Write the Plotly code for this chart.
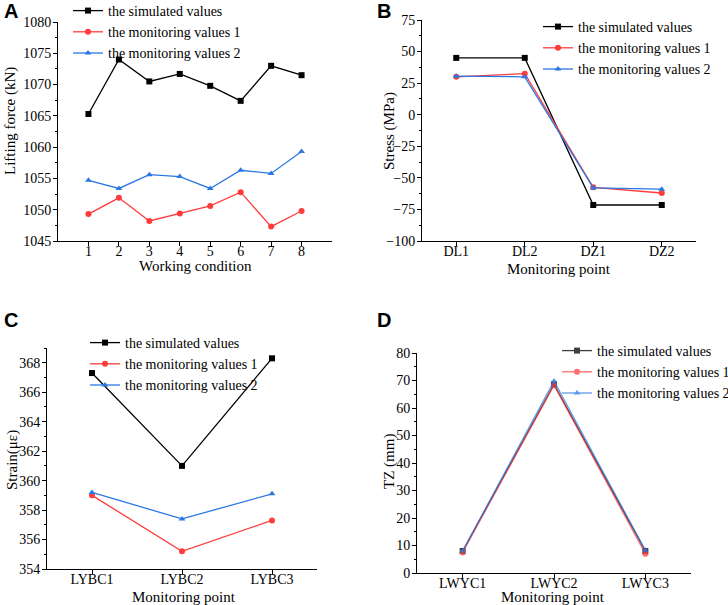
import plotly.graph_objects as go

# ---------------- data ----------------
names = ["the simulated values", "the monitoring values 1", "the monitoring values 2"]

a_x = [1, 2, 3, 4, 5, 6, 7, 8]
a_sim = [1065.3, 1074.0, 1070.5, 1071.7, 1069.8, 1067.4, 1073.0, 1071.5]
a_m1 = [1049.3, 1051.9, 1048.2, 1049.4, 1050.6, 1052.8, 1047.3, 1049.8]
a_m2 = [1054.7, 1053.4, 1055.6, 1055.3, 1053.4, 1056.3, 1055.8, 1059.3]

b_x = ["DL1", "DL2", "DZ1", "DZ2"]
b_sim = [45.0, 45.0, -71.5, -71.5]
b_m1 = [30.0, 32.5, -57.5, -62.0]
b_m2 = [30.5, 30.0, -58.0, -59.0]

c_x = ["LYBC1", "LYBC2", "LYBC3"]
c_sim = [367.3, 361.0, 368.3]
c_m1 = [359.0, 355.2, 357.3]
c_m2 = [359.2, 357.4, 359.1]

d_x = ["LWYC1", "LWYC2", "LWYC3"]
d_sim = [8.0, 68.6, 8.0]
d_m1 = [7.5, 68.3, 7.0]
d_m2 = [8.0, 69.8, 8.3]

# ---------------- style ----------------
W, H = 728, 605
SERIF = "Liberation Serif"
colors = ["#000000", "#ff3b3b", "#2a78e4"]
symbols = ["square", "circle", "triangle-up"]

def px_x(p):
    return p / W

def px_y(p):
    return 1 - p / H

fig = go.Figure()

panels = [
    ("x", "y", "legend", a_x, [a_sim, a_m1, a_m2], 1.0),
    ("x2", "y2", "legend2", b_x, [b_sim, b_m1, b_m2], 1.0),
    ("x3", "y3", "legend3", c_x, [c_sim, c_m1, c_m2], 1.0),
    ("x4", "y4", "legend4", d_x, [d_sim, d_m1, d_m2], 0.75),
]

for xa, ya, lg, xs, series, op in panels:
    for i, ys in enumerate(series):
        fig.add_trace(go.Scatter(
            x=xs, y=ys, mode="lines+markers", name=names[i],
            xaxis=xa, yaxis=ya, legend=lg, opacity=op,
            line=dict(color=colors[i], width=1.3),
            marker=dict(symbol=symbols[i], size=6, color=colors[i]),
        ))

axis_common = dict(
    showline=True, linecolor="black", linewidth=1, mirror=False,
    showgrid=False, zeroline=False, ticks="outside", ticklen=4,
    tickcolor="black", tickfont=dict(family=SERIF, size=14, color="black"),
)

def yaxis(domain, rng, dtick, anchor):
    return dict(
        axis_common, domain=domain, range=rng, dtick=dtick, tick0=rng[0],
        anchor=anchor, ticklabelstandoff=-1,
        minor=dict(ticks="outside", ticklen=2, dtick=dtick / 2, tickcolor="black"),
    )

def xaxis(domain, rng, anchor, **kw):
    return dict(axis_common, domain=domain, range=rng, anchor=anchor,
                ticklabelstandoff=-7, **kw)

fig.update_layout(
    width=W, height=H,
    margin=dict(l=0, r=0, t=0, b=0, autoexpand=False),
    paper_bgcolor="white", plot_bgcolor="white",
    font=dict(family=SERIF, size=14, color="black"),
    xaxis=xaxis([px_x(58), px_x(332)], [0, 9], "y", tickvals=a_x),
    yaxis=yaxis([px_y(241), px_y(22)], [1045, 1080], 5, "x"),
    xaxis2=xaxis([px_x(422), px_x(696)], [-0.5, 3.5], "y2", type="category"),
    yaxis2=yaxis([px_y(241), px_y(20)], [-100, 75], 25, "x2"),
    xaxis3=xaxis([px_x(47), px_x(317)], [-0.5, 2.5], "y3", type="category"),
    yaxis3=yaxis([px_y(569), px_y(348)], [354, 369], 2, "x3"),
    xaxis4=xaxis([px_x(417), px_x(691)], [-0.5, 2.5], "y4", type="category"),
    yaxis4=yaxis([px_y(573), px_y(353)], [0, 80], 10, "x4"),
)

# axis titles
titles = [
    ("Working condition", 195, 266, 0),
    ("Lifting force (kN)", 11, 121, -90),
    ("Monitoring point", 559, 269, 0),
    ("Stress (MPa)", 389, 131, -90),
    ("Monitoring point", 184, 597, 0),
    ("Strain(\u03bc\u03b5)", 12, 460, -90),
    ("Monitoring point", 553, 597, 0),
    ("TZ (mm)", 389, 462, -90),
]
for txt, x, y, ang in titles:
    fig.add_annotation(
        text=txt, xref="paper", yref="paper", x=px_x(x), y=px_y(y),
        xanchor="center", yanchor="middle", showarrow=False, textangle=ang,
        font=dict(family=SERIF, size=15, color="black"),
    )

legend_common = dict(
    bgcolor="rgba(0,0,0,0)", borderwidth=0,
    font=dict(family=SERIF, size=14, color="black"),
    xanchor="left", yanchor="top", tracegroupgap=0,
)
fig.update_layout(
    legend=dict(legend_common, x=px_x(68), y=px_y(-5)),
    legend2=dict(legend_common, x=px_x(538), y=px_y(11)),
    legend3=dict(legend_common, x=px_x(85), y=px_y(327)),
    legend4=dict(legend_common, x=px_x(557), y=px_y(335)),
)

for lab, x, y in [("A", 2, -2), ("B", 375, -2), ("C", 2, 307), ("D", 375, 307)]:
    fig.add_annotation(
        text="<b>%s</b>" % lab, xref="paper", yref="paper",
        x=px_x(x), y=px_y(y), xanchor="left", yanchor="top", showarrow=False,
        font=dict(family="Liberation Sans", size=20, color="black"),
    )

fig.write_html("out.html")
